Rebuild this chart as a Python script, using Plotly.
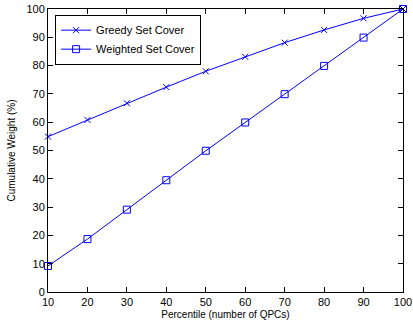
import plotly.graph_objects as go

percentile = [10, 20, 30, 40, 50, 60, 70, 80, 90, 100]
greedy = [54.9, 60.8, 66.7, 72.4, 78.0, 83.1, 88.1, 92.6, 96.7, 100.0]
weighted = [9.2, 18.7, 29.1, 39.5, 49.9, 59.9, 69.9, 79.9, 89.9, 100.0]
y_ticks = [0, 10, 20, 30, 40, 50, 60, 70, 80, 90, 100]
x_ticks = [10, 20, 30, 40, 50, 60, 70, 80, 90, 100]

fig = go.Figure()
fig.add_trace(go.Scatter(
    x=percentile, y=greedy, mode="lines+markers", name="Greedy Set Cover",
    line=dict(color="#0000ff", width=1), cliponaxis=False,
    marker=dict(symbol="x-thin-open", size=6, color="#0000ff",
                line=dict(color="#0000ff", width=1))))
fig.add_trace(go.Scatter(
    x=percentile, y=weighted, mode="lines+markers", name="Weighted Set Cover",
    line=dict(color="#0000ff", width=1), cliponaxis=False,
    marker=dict(symbol="square-open", size=7, color="#0000ff",
                line=dict(color="#0000ff", width=1))))

axis_common = dict(
    showline=True, linecolor="black", linewidth=1, mirror="ticks",
    ticks="inside", ticklen=5, tickcolor="black", showgrid=False, zeroline=False,
    ticklabeloverflow="allow",
    tickfont=dict(family="Liberation Sans, Arial", size=11, color="black"),
)
fig.update_xaxes(range=[10, 100], tickvals=x_ticks,
                 title=dict(text="Percentile (number of QPCs)", standoff=3,
                            font=dict(family="Liberation Sans, Arial", size=10, color="black")),
                 **axis_common)
fig.update_yaxes(range=[0, 100], tickvals=y_ticks,
                 title=dict(text="Cumulative Weight (%)", standoff=8,
                            font=dict(family="Liberation Sans, Arial", size=10, color="black")),
                 **axis_common)
fig.update_layout(
    width=413, height=326,
    margin=dict(l=48, r=10, t=9, b=34, autoexpand=False),
    paper_bgcolor="white", plot_bgcolor="white",
    showlegend=True,
    legend=dict(x=0.02, y=0.98, xanchor="left", yanchor="top",
                bordercolor="black", borderwidth=1, bgcolor="white",
                font=dict(family="Liberation Sans, Arial", size=11, color="black"),
                tracegroupgap=0),
)
fig.write_html("out.html", config={"displayModeBar": False},
               post_script="document.body.style.margin='0';document.body.style.overflow='hidden';")
